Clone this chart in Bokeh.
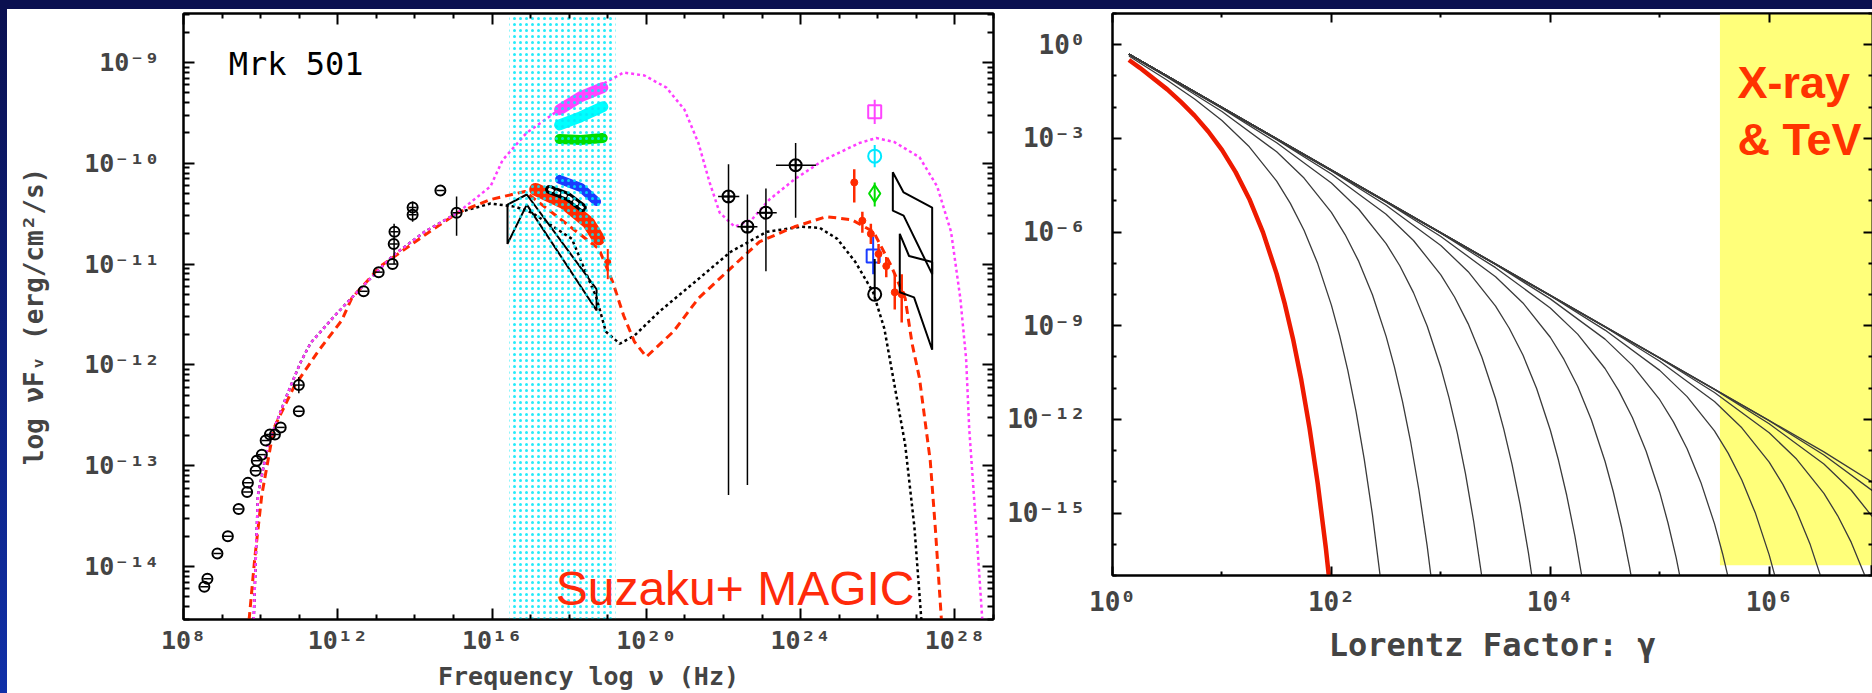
import numpy as np
from bokeh.plotting import figure
from bokeh.layouts import row
from bokeh.models import Range1d, LogAxis, FixedTicker, CustomJSTickFormatter
from bokeh.core.properties import value
from bokeh.embed import file_html
from bokeh.resources import INLINE

MONO = "DejaVu Sans Mono"
ARIAL = "Liberation Sans"

# ===================== LEFT PANEL: SED of Mrk 501 (log10 nu, log10 nuFnu) =====================
magenta_model_lx = [9.82, 9.93, 10.19, 10.68, 11.04, 11.30, 11.95, 12.57, 13.42, 14.25, 15.11, 15.96, 16.27,
                    16.89, 17.85, 18.71, 19.41, 19.95, 20.52, 20.99, 21.35, 21.64, 21.90, 22.29, 22.73, 23.19,
                    23.84, 24.59, 25.52, 25.96, 26.43, 27.08, 27.54, 27.90, 28.14, 28.29, 28.37, 28.55, 28.71]
magenta_model_ly = [-14.53, -13.29, -12.79, -12.30, -11.97, -11.78, -11.50, -11.25, -10.92, -10.68, -10.49,
                    -10.23, -9.97, -9.70, -9.44, -9.25, -9.10, -9.13, -9.25, -9.47, -9.80, -10.19, -10.49,
                    -10.63, -10.56, -10.36, -10.16, -9.97, -9.80, -9.75, -9.79, -9.94, -10.23, -10.68,
                    -11.34, -11.94, -12.63, -13.61, -14.53]

red_model_lx = [9.70, 9.85, 10.03, 10.34, 10.86, 11.50, 12.10, 12.36, 13.11, 14.38, 15.11, 15.96,
                16.85, 18.77, 19.13, 19.41, 19.69, 20.00, 20.70, 21.35, 22.08, 22.93, 23.84, 24.67, 25.32,
                25.89, 26.35, 26.71, 26.89, 27.08, 27.36, 27.49, 27.65]
red_model_ly = [-14.53, -13.91, -13.29, -12.63, -12.22, -11.86, -11.56, -11.34, -11.02, -10.68,
                -10.49, -10.36, -10.28, -10.85, -11.18, -11.51, -11.77, -11.92, -11.67, -11.34, -11.08,
                -10.78, -10.63, -10.53, -10.56, -10.68, -11.02, -11.34, -11.79, -12.13, -12.95, -13.61,
                -14.53]

black_model_lx = [9.82, 9.93, 10.19, 10.68, 11.04, 11.30, 11.95, 12.57, 13.42, 14.25, 15.11, 15.96, 16.59,
                  17.03, 18.07, 18.71, 18.95, 19.31, 19.69, 20.34, 21.25, 22.18, 23.12, 24.02, 24.49, 24.95,
                  25.42, 25.88, 26.17, 26.71, 26.95, 27.13]
black_model_ly = [-14.53, -13.29, -12.79, -12.30, -11.97, -11.78, -11.50, -11.25, -10.92, -10.68, -10.49,
                  -10.40, -10.43, -10.49, -10.75, -11.34, -11.67, -11.79, -11.71, -11.47, -11.18, -10.88,
                  -10.68, -10.63, -10.64, -10.75, -10.98, -11.28, -11.64, -12.79, -13.61, -14.53]

# archival radio / optical points (black circles)
arch_lx = [8.54, 8.62, 8.88, 9.15, 9.43, 9.65, 9.67, 9.87, 9.90, 10.03, 10.13, 10.24, 10.37, 10.52, 10.99,
           10.99, 12.67, 13.06, 13.42, 13.45, 13.47, 13.94, 13.94, 14.66, 15.08]
arch_ly = [-14.20, -14.12, -13.87, -13.70, -13.43, -13.26, -13.17, -13.05, -12.95, -12.89, -12.75, -12.69,
           -12.69, -12.62, -12.46, -12.20, -11.27, -11.08, -11.00, -10.80, -10.68, -10.44, -10.51, -10.27,
           -10.49]
arch_err_lx = [10.99, 13.46, 13.94, 15.08]
arch_err_lo = [-12.28, -11.00, -10.58, -10.72]
arch_err_hi = [-12.12, -10.60, -10.38, -10.33]

# gamma-ray (GeV) points with x and y error bars
gev_lx = [22.13, 22.62, 23.10, 23.87]
gev_ly = [-10.33, -10.63, -10.49, -10.02]
gev_ylo = [-13.29, -13.19, -11.07, -10.54]
gev_yhi = [-10.01, -10.31, -10.25, -9.80]
gev_xlo = [21.86, 22.36, 22.87, 23.36]
gev_xhi = [22.41, 22.88, 23.38, 24.40]

# Suzaku X-ray spectra (coloured bands)
xm_lx = [17.75, 18.30, 18.87]; xm_ly = [-9.47, -9.34, -9.25]
xc_lx = [17.75, 18.30, 18.87]; xc_ly = [-9.62, -9.54, -9.44]
xg_lx = [17.75, 18.30, 18.87]; xg_ly = [-9.76, -9.77, -9.75]
xb_lx = [17.75, 18.30, 18.71]; xb_ly = [-10.16, -10.24, -10.38]
xr_lx = [17.13, 17.86, 18.50, 18.76]; xr_ly = [-10.26, -10.39, -10.59, -10.75]
xk_lx = [17.49, 17.96, 18.34]; xk_ly = [-10.26, -10.33, -10.44]
xr_hard_lx = [19.00]; xr_hard_ly = [-10.98]

# soft X-ray bowtie (black)
bowx_lx = [16.40, 16.90, 18.71, 18.71, 16.90, 16.40]
bowx_ly = [-10.41, -10.31, -11.25, -11.46, -10.41, -10.80]

# TeV points
tev_m = (25.92, -9.49, -9.61, -9.37)
tev_c = (25.92, -9.93, -10.04, -9.82)
tev_g = (25.92, -10.30, -10.43, -10.19)
tev_b = (25.88, -10.92, -11.10, -10.73)
tev_k = (25.92, -11.30, -11.34, -10.95)
magic_lx = [25.39, 25.60, 25.82, 26.02, 26.22, 26.44, 26.62]
magic_ly = [-10.19, -10.57, -10.70, -10.90, -11.02, -11.28, -11.30]
magic_lo = [-10.39, -10.69, -10.80, -11.00, -11.13, -11.45, -11.58]
magic_hi = [-10.06, -10.48, -10.60, -10.80, -10.93, -11.10, -11.10]

# TeV bowties
bow1_lx = [26.39, 26.67, 27.41, 27.41, 26.67, 26.39]
bow1_ly = [-10.09, -10.29, -10.44, -11.10, -10.52, -10.47]
bow2_lx = [26.57, 26.81, 27.41, 27.41, 26.94, 26.57]
bow2_ly = [-10.70, -10.92, -10.98, -11.85, -11.33, -11.28]

suzaku_band_lx = [16.45, 19.2]

xlim_left = [8.0, 29.0]
ylim_left = [-14.525, -8.515]
xticks_left = [8, 12, 16, 20, 24, 28]
yticks_left = [-14, -13, -12, -11, -10, -9]

# ===================== RIGHT PANEL: electron spectra N(gamma) =====================
# one entry per curve: (log10 gamma list, log10 N list); first one is the red (thick) curve
curves = [
    ([0.15, 0.25, 0.5, 0.625, 0.75, 0.875, 1.0, 1.125, 1.25, 1.375, 1.5, 1.575, 1.65, 1.725, 1.8, 1.875, 1.95, 2.025, 2.1],
     [-0.49, -0.74, -1.43, -1.83, -2.27, -2.78, -3.37, -4.08, -4.94, -6.01, -7.34, -8.31, -9.43, -10.74, -12.27, -14.05, -16.14, -18.60, -21.49]),
    ([0.15, 0.5, 0.75, 1.0, 1.25, 1.5, 1.625, 1.75, 1.875, 2.0, 2.075, 2.15, 2.225, 2.3, 2.375, 2.45, 2.525, 2.6],
     [-0.36, -1.14, -1.74, -2.43, -3.27, -4.37, -5.08, -5.94, -7.01, -8.34, -9.31, -10.43, -11.74, -13.27, -15.05, -17.14, -19.60, -22.49]),
    ([0.15, 0.5, 1.0, 1.5, 1.75, 2.0, 2.125, 2.25, 2.375, 2.5, 2.575, 2.65, 2.725, 2.8, 2.875, 2.95, 3.025, 3.1],
     [-0.32, -1.04, -2.14, -3.43, -4.27, -5.37, -6.08, -6.94, -8.01, -9.34, -10.31, -11.43, -12.74, -14.27, -16.05, -18.14, -20.60, -23.49]),
    ([0.15, 1.0, 1.5, 2.0, 2.25, 2.5, 2.625, 2.75, 2.875, 3.0, 3.075, 3.15, 3.225, 3.3, 3.375, 3.45, 3.525],
     [-0.31, -2.04, -3.14, -4.43, -5.27, -6.37, -7.08, -7.94, -9.01, -10.34, -11.31, -12.43, -13.74, -15.27, -17.05, -19.14, -21.60]),
    ([0.15, 1.5, 2.0, 2.5, 2.75, 3.0, 3.125, 3.25, 3.375, 3.5, 3.575, 3.65, 3.725, 3.8, 3.875, 3.95],
     [-0.30, -3.04, -4.14, -5.43, -6.27, -7.37, -8.08, -8.94, -10.01, -11.34, -12.31, -13.43, -14.74, -16.27, -18.05, -20.14]),
    ([0.15, 2.0, 2.5, 3.0, 3.25, 3.5, 3.625, 3.75, 3.875, 4.0, 4.075, 4.15, 4.225, 4.3, 4.375, 4.45],
     [-0.30, -4.04, -5.14, -6.43, -7.27, -8.37, -9.08, -9.94, -11.01, -12.34, -13.31, -14.43, -15.74, -17.27, -19.05, -21.14]),
    ([0.15, 2.5, 3.0, 3.5, 3.75, 4.0, 4.125, 4.25, 4.375, 4.5, 4.575, 4.65, 4.725, 4.8, 4.875],
     [-0.30, -5.04, -6.14, -7.43, -8.27, -9.37, -10.08, -10.94, -12.01, -13.34, -14.31, -15.43, -16.74, -18.27, -20.05]),
    ([0.15, 3.0, 3.5, 4.0, 4.25, 4.5, 4.625, 4.75, 4.875, 5.0, 5.075, 5.15, 5.225, 5.3, 5.375],
     [-0.30, -6.04, -7.14, -8.43, -9.27, -10.37, -11.08, -11.94, -13.01, -14.34, -15.31, -16.43, -17.74, -19.27, -21.05]),
    ([0.15, 3.5, 4.0, 4.5, 4.75, 5.0, 5.125, 5.25, 5.375, 5.5, 5.575, 5.65, 5.725, 5.8],
     [-0.30, -7.04, -8.14, -9.43, -10.27, -11.37, -12.08, -12.94, -14.01, -15.34, -16.31, -17.43, -18.74, -20.27]),
    ([0.15, 4.0, 4.5, 5.0, 5.25, 5.5, 5.625, 5.75, 5.875, 6.0, 6.075, 6.15, 6.225, 6.3],
     [-0.30, -8.04, -9.14, -10.43, -11.27, -12.37, -13.08, -13.94, -15.01, -16.34, -17.31, -18.43, -19.74, -21.27]),
    ([0.15, 4.5, 5.0, 5.5, 5.75, 6.0, 6.125, 6.25, 6.375, 6.5, 6.575, 6.65, 6.725],
     [-0.30, -9.04, -10.14, -11.43, -12.27, -13.37, -14.08, -14.94, -16.01, -17.34, -18.31, -19.43, -20.74]),
    ([0.15, 5.0, 5.5, 6.0, 6.25, 6.5, 6.625, 6.75, 6.875, 7.0],
     [-0.30, -10.04, -11.14, -12.43, -13.27, -14.37, -15.08, -15.94, -17.01, -18.34]),
    ([0.15, 5.5, 6.0, 6.5, 6.75, 7.0],
     [-0.30, -11.04, -12.14, -13.43, -14.27, -15.37]),
    ([0.15, 6.0, 6.5, 7.0],
     [-0.30, -12.04, -13.14, -14.43]),
    ([0.15, 6.5, 7.0],
     [-0.30, -13.04, -14.14]),
]
xray_tev_band_lx = [5.55, 8.0]
xray_tev_band_ly = [-16.67, 2.0]

xlim_right = [0.0, 6.944]
ylim_right = [-17.0, 1.0]
xticks_right = [0, 2, 4, 6]
yticks_right = [0, -3, -6, -9, -12, -15]


def P(a):
    return 10.0 ** np.asarray(a, dtype=float)


SUP = CustomJSTickFormatter(code="""
const m = {"0":"\u2070","1":"\u00b9","2":"\u00b2","3":"\u00b3","4":"\u2074","5":"\u2075",
           "6":"\u2076","7":"\u2077","8":"\u2078","9":"\u2079","-":"\u207b"};
const e = Math.round(Math.log10(tick));
return "10" + String(e).split("").map(c => m[c]).join("");
""")


def blank():
    return CustomJSTickFormatter(code="return ''")


def style_axis(ax, maj, mnr, lw=2):
    ax.major_tick_in = maj
    ax.major_tick_out = 0
    ax.minor_tick_in = mnr
    ax.minor_tick_out = 0
    ax.axis_line_width = lw
    ax.major_tick_line_width = lw
    ax.minor_tick_line_width = lw
    ax.axis_line_color = "black"


# ---------------- left figure ----------------
ymin_minor = []
for e in range(-15, -8):
    for k in range(2, 10):
        ymin_minor.append(k * 10.0 ** e)
xl_major = [10.0 ** t for t in xticks_left]
xl_minor = [10.0 ** t for t in range(8, 30) if t not in xticks_left]
yl_major = [10.0 ** t for t in yticks_left]

p1 = figure(width=991, height=684, x_axis_type="log", y_axis_type="log",
            x_range=Range1d(*P(xlim_left)), y_range=Range1d(*P(ylim_left)),
            output_backend="svg", toolbar_location=None,
            min_border_left=176, min_border_right=5, min_border_top=4, min_border_bottom=70,
            background_fill_color="white", border_fill_color="white",
            outline_line_color="black", outline_line_width=2)
p1.margin = (9, 0, 0, 7)
p1.frame_align = False
p1.grid.visible = False

xa = p1.xaxis[0]
xa.ticker = FixedTicker(ticks=xl_major, minor_ticks=xl_minor)
xa.formatter = SUP
style_axis(xa, 11, 5)
xa.major_label_text_font = MONO
xa.major_label_text_font_style = "bold"
xa.major_label_text_font_size = "25px"
xa.major_label_standoff = 6
xa.axis_label = "Frequency log \u03bd (Hz)"
xa.axis_label_text_font = MONO
xa.axis_label_text_font_size = "25px"
xa.axis_label_text_font_style = "bold"
xa.axis_label_standoff = 4

ya = p1.yaxis[0]
ya.ticker = FixedTicker(ticks=yl_major, minor_ticks=ymin_minor)
ya.formatter = SUP
style_axis(ya, 11, 6)
ya.major_label_text_font = MONO
ya.major_label_text_font_style = "bold"
ya.major_label_text_font_size = "25px"
ya.major_label_standoff = 24
ya.axis_label = "log \u03bdF\u1d65 (erg/cm\u00b2/s)"
ya.axis_label_text_font = MONO
ya.axis_label_text_font_size = "26px"
ya.axis_label_text_font_style = "bold"
ya.axis_label_standoff = 32

ra = LogAxis(ticker=FixedTicker(ticks=yl_major, minor_ticks=ymin_minor), formatter=blank(),
             major_label_standoff=0)
style_axis(ra, 11, 6)
p1.add_layout(ra, "right")
ta = LogAxis(ticker=FixedTicker(ticks=xl_major, minor_ticks=xl_minor), formatter=blank(),
             major_label_standoff=0)
style_axis(ta, 11, 5)
p1.add_layout(ta, "above")

# models
p1.line(P(black_model_lx), P(black_model_ly), color="black", line_width=2.5, line_dash="3 3")
p1.line(P(red_model_lx), P(red_model_ly), color="#ff2a00", line_width=3, line_dash="8 5")
p1.line(P(magenta_model_lx), P(magenta_model_ly), color="#ff3cff", line_width=2.5, line_dash="3 3")

# archival points
p1.segment(P(arch_err_lx), P(arch_err_lo), P(arch_err_lx), P(arch_err_hi), color="black", line_width=1.5)
p1.scatter(P(arch_lx), P(arch_ly), marker="circle", size=10, fill_color=None, line_color="black", line_width=2)
p1.scatter(P(arch_lx), P(arch_ly), marker="dash", size=8, line_color="black", line_width=1.5)

# GeV points
p1.segment(P(gev_lx), P(gev_ylo), P(gev_lx), P(gev_yhi), color="black", line_width=1.5)
p1.segment(P(gev_xlo), P(gev_ly), P(gev_xhi), P(gev_ly), color="black", line_width=1.5)
p1.scatter(P(gev_lx), P(gev_ly), marker="circle_cross", size=12, fill_color=None, line_color="black", line_width=2)

# X-ray spectra
p1.patch(P(bowx_lx), P(bowx_ly), fill_color=None, line_color="black", line_width=2)
p1.line(P(xr_lx), P(xr_ly), color="#ff2a00", line_width=13, line_cap="round")
p1.line(P(xk_lx), P(xk_ly), color="black", line_width=9, line_cap="round")
p1.line(P(xk_lx), P(xk_ly), color="white", line_width=3, line_cap="round", line_dash="3 4")
p1.line(P(xb_lx), P(xb_ly), color="#1a3cff", line_width=9, line_cap="round")
p1.line(P(xg_lx), P(xg_ly), color="#00dd00", line_width=10, line_cap="round")
p1.line(P(xc_lx), P(xc_ly), color="#00ffff", line_width=11, line_cap="round")
p1.line(P(xm_lx), P(xm_ly), color="#ff44ff", line_width=11, line_cap="round")
p1.segment(P([18.92]), P(xr_hard_ly), P([19.08]), P(xr_hard_ly), color="#ff2a00", line_width=2)
p1.segment(P(xr_hard_lx), P([-10.85]), P(xr_hard_lx), P([-11.15]), color="#ff2a00", line_width=2)
p1.scatter(P(xr_hard_lx), P(xr_hard_ly), marker="circle", size=6, color="#ff2a00")

# TeV points
for (lx, ly, lo, hi), col, mk in [(tev_m, "#ff44ff", "square"), (tev_c, "#00e8ff", "circle"),
                                   (tev_g, "#00dd00", "diamond"), (tev_b, "#1a3cff", "square"),
                                   (tev_k, "black", "circle")]:
    p1.segment(P([lx]), P([lo]), P([lx]), P([hi]), color=col, line_width=2)
    p1.scatter(P([lx]), P([ly]), marker=mk, size=13 if mk != "diamond" else 17, fill_color=None,
               line_color=col, line_width=2)
p1.segment(P(magic_lx), P(magic_lo), P(magic_lx), P(magic_hi), color="#ff2a00", line_width=2.5)
p1.scatter(P(magic_lx), P(magic_ly), marker="circle", size=7, color="#ff2a00")
p1.patch(P(bow1_lx), P(bow1_ly), fill_color=None, line_color="black", line_width=2)
p1.patch(P(bow2_lx), P(bow2_ly), fill_color=None, line_color="black", line_width=2)

# Suzaku band (dotted cyan hatch on top)
p1.quad(left=P(suzaku_band_lx[0]), right=P(suzaku_band_lx[1]), bottom=1e-16, top=1e-7,
        fill_alpha=0, line_alpha=0, hatch_pattern="dot", hatch_color="#00e8f8", hatch_scale=6,
        hatch_weight=0.5, hatch_alpha=0.85)

p1.text(x=[10 ** 9.17], y=[10 ** -9.02], text=["Mrk 501"], text_font=value(MONO), text_font_size="32px",
        text_color="black", text_baseline="alphabetic")
p1.text(x=[10 ** 17.65], y=[10 ** -14.22], text=["Suzaku+ MAGIC"], text_font=value(ARIAL),
        text_font_size="48px", text_color="#ff2a0a", text_baseline="alphabetic")

# ---------------- right figure ----------------
xr_major = [10.0 ** t for t in xticks_right]
xr_minor = [10.0 ** t for t in [1, 3, 5]]
yr_major = [10.0 ** t for t in yticks_right]
yr_minor = [10.0 ** t for t in range(-17, 2) if t not in yticks_right]

p2 = figure(width=874, height=684, x_axis_type="log", y_axis_type="log",
            x_range=Range1d(*P(xlim_right)), y_range=Range1d(*P(ylim_right)),
            output_backend="svg", toolbar_location=None,
            min_border_left=114, min_border_right=0, min_border_top=4, min_border_bottom=118,
            background_fill_color="white", border_fill_color="white",
            outline_line_color="black", outline_line_width=2)
p2.margin = (9, 0, 0, 0)
p2.frame_align = False
p2.grid.visible = False

xa2 = p2.xaxis[0]
xa2.ticker = FixedTicker(ticks=xr_major, minor_ticks=xr_minor)
xa2.formatter = SUP
style_axis(xa2, 9, 4)
xa2.major_label_text_font = MONO
xa2.major_label_text_font_style = "bold"
xa2.major_label_text_font_size = "26px"
xa2.major_label_standoff = 11
xa2.axis_label = "Lorentz Factor: \u03b3"
xa2.axis_label_text_font = MONO
xa2.axis_label_text_font_size = "32px"
xa2.axis_label_text_font_style = "bold"
xa2.axis_label_standoff = 6

ya2 = p2.yaxis[0]
ya2.ticker = FixedTicker(ticks=yr_major, minor_ticks=yr_minor)
ya2.formatter = SUP
style_axis(ya2, 9, 4)
ya2.major_label_text_font = MONO
ya2.major_label_text_font_style = "bold"
ya2.major_label_text_font_size = "26px"
ya2.major_label_standoff = 27

ra2 = LogAxis(ticker=FixedTicker(ticks=yr_major, minor_ticks=yr_minor), formatter=blank(),
              major_label_standoff=0)
style_axis(ra2, 9, 4)
p2.add_layout(ra2, "right")
ta2 = LogAxis(ticker=FixedTicker(ticks=xr_major, minor_ticks=xr_minor), formatter=blank(),
              major_label_standoff=0)
style_axis(ta2, 9, 4)
p2.add_layout(ta2, "above")

p2.quad(left=P(xray_tev_band_lx[0]), right=P(xray_tev_band_lx[1]),
        bottom=P(xray_tev_band_ly[0]), top=P(xray_tev_band_ly[1]),
        fill_color="#ffff7a", line_alpha=0)

for lx, ly in curves[1:]:
    p2.line(P(lx), P(ly), color="#3a3a3a", line_width=1.3)
p2.line(P(curves[0][0]), P(curves[0][1]), color="#ee1a00", line_width=4.5)

p2.text(x=[10 ** 5.71, 10 ** 5.71], y=[10 ** -1.22, 10 ** -3.04], text=["X-ray", "& TeV"],
        text_font=value(ARIAL), text_font_size="45px", text_font_style="bold", text_color="#ff3300",
        text_baseline="alphabetic")

BG = ("linear-gradient(#0a1050, #0a1050) top left / 100% 9px no-repeat, "
      "linear-gradient(to bottom, #0a1050, #1030a8) top left / 7px 100% no-repeat, #ffffff")
layout = row(p1, p2, styles={"background": BG})

open("out.html", "w").write(file_html(layout, INLINE))
